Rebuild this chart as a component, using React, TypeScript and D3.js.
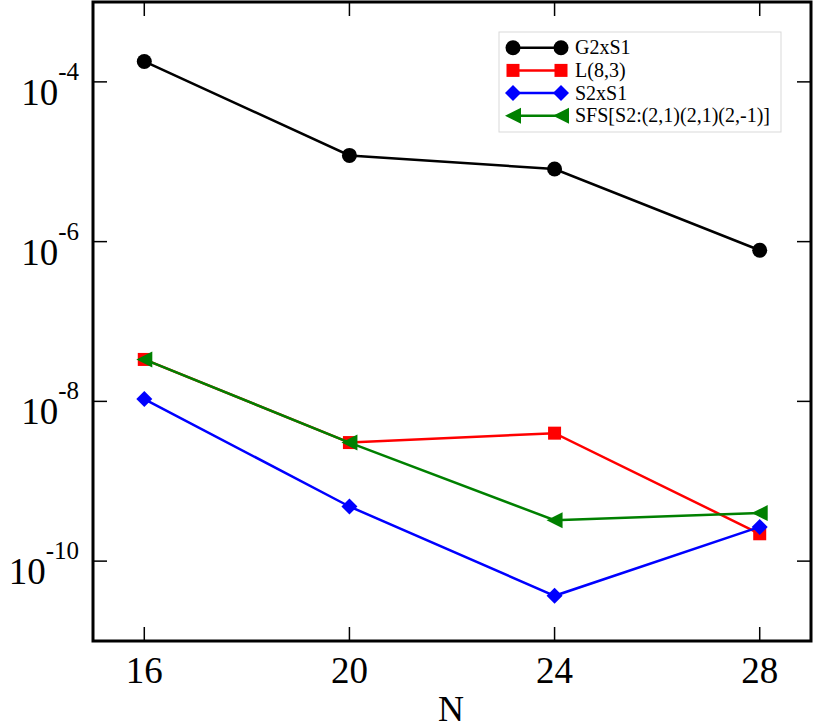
import React from 'react';
import * as d3 from 'd3';

const nValues = [16, 20, 24, 28];
const g2xs1 = [1.8e-4, 1.2e-5, 8.1e-6, 7.8e-7];
const l83 = [3.35e-8, 3.05e-9, 4.0e-9, 2.2e-10];
const s2xs1 = [1.07e-8, 4.83e-10, 3.68e-11, 2.68e-10];
const sfs = [3.35e-8, 3.05e-9, 3.25e-10, 4.0e-10];
const xTicks = [16, 20, 24, 28];
const yTickExps = [-4, -6, -8, -10];

const seriesList = [
  { name: 'G2xS1', values: g2xs1, color: '#000000', marker: 'circle' },
  { name: 'L(8,3)', values: l83, color: '#ff0000', marker: 'square' },
  { name: 'S2xS1', values: s2xs1, color: '#0000ff', marker: 'diamond' },
  { name: 'SFS[S2:(2,1)(2,1)(2,-1)]', values: sfs, color: '#008000', marker: 'triangle' },
];

const FONT = '"Liberation Serif", "Times New Roman", serif';

const Marker = ({ type, x, y, color }: { type: string; x: number; y: number; color: string }) => {
  if (type === 'circle') return <circle cx={x} cy={y} r={7.5} fill={color} />;
  if (type === 'square') return <rect x={x - 6.5} y={y - 6.5} width={13} height={13} fill={color} />;
  if (type === 'diamond')
    return <path d={`M${x},${y - 8}L${x + 8},${y}L${x},${y + 8}L${x - 8},${y}Z`} fill={color} />;
  return <path d={`M${x - 8},${y}L${x + 8},${y - 8}L${x + 8},${y + 8}Z`} fill={color} />;
};

export default function App() {
  const width = 814;
  const height = 727;
  const margin = { left: 93, top: 2, right: 3, bottom: 86 };
  const x = d3.scaleLinear().domain([15, 29]).range([margin.left, width - margin.right]);
  const y = d3.scaleLog().domain([1e-11, 1e-3]).range([height - margin.bottom, margin.top]);
  const x0 = x.range()[0];
  const x1 = x.range()[1];
  const yB = y.range()[0];
  const yT = y.range()[1];
  const tickLen = 14;

  const line = d3
    .line<number>()
    .x((_, i) => x(nValues[i]))
    .y((d) => y(d));

  const legendX = 499;
  const legendY = 32;

  return (
    <svg
      width={width}
      height={height}
      style={{ position: 'absolute', left: 0, top: 0, background: '#fff' }}
      fontFamily={FONT}
    >
      {/* ticks */}
      {xTicks.map((t) => (
        <g key={`xt${t}`}>
          <line x1={x(t)} x2={x(t)} y1={yB} y2={yB - tickLen} stroke="#000" strokeWidth={1.5} />
          <line x1={x(t)} x2={x(t)} y1={yT} y2={yT + tickLen} stroke="#000" strokeWidth={1.5} />
          <text x={x(t)} y={683} fontSize={37} textAnchor="middle">
            {t}
          </text>
        </g>
      ))}
      {yTickExps.map((e) => (
        <g key={`yt${e}`}>
          <line x1={x0} x2={x0 + tickLen} y1={y(Math.pow(10, e))} y2={y(Math.pow(10, e))} stroke="#000" strokeWidth={1.5} />
          <line x1={x1} x2={x1 - tickLen} y1={y(Math.pow(10, e))} y2={y(Math.pow(10, e))} stroke="#000" strokeWidth={1.5} />
          <text x={79} y={y(Math.pow(10, e)) + 23} fontSize={37} textAnchor="end">
            <tspan>10</tspan>
            <tspan dy={-25} fontSize={25}>
              {e}
            </tspan>
          </text>
        </g>
      ))}

      {/* series */}
      {seriesList.map((s) => (
        <g key={s.name}>
          <path d={line(s.values) || ''} fill="none" stroke={s.color} strokeWidth={2.5} />
          {s.values.map((v, i) => (
            <Marker key={i} type={s.marker} x={x(nValues[i])} y={y(v)} color={s.color} />
          ))}
        </g>
      ))}

      {/* frame */}
      <rect x={x0} y={yT} width={x1 - x0} height={yB - yT} fill="none" stroke="#000" strokeWidth={3} />

      {/* legend */}
      <rect x={legendX} y={legendY} width={282} height={100} fill="#fff" stroke="#d9d9d9" strokeWidth={1} />
      {seriesList.map((s, i) => {
        const ly = 47.7 + i * 22.7;
        return (
          <g key={`lg${i}`}>
            <line x1={513} x2={561} y1={ly} y2={ly} stroke={s.color} strokeWidth={2.5} />
            <Marker type={s.marker} x={513} y={ly} color={s.color} />
            <Marker type={s.marker} x={561} y={ly} color={s.color} />
            <text x={575} y={ly + 6.5} fontSize={20}>
              {s.name}
            </text>
          </g>
        );
      })}

      {/* axis label */}
      <text x={451} y={721} fontSize={36} textAnchor="middle">
        N
      </text>
    </svg>
  );
}
